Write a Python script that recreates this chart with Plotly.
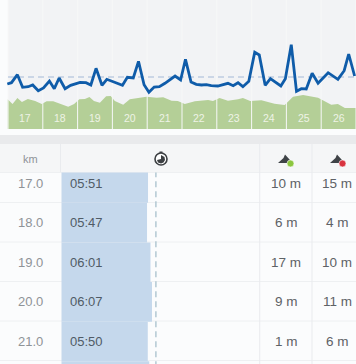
import plotly.graph_objects as go

W, H = 356, 364

# Top chart: distance (km), pace line and elevation profile (heights in chart units)
pace_km = [15.98,16.10,16.27,16.42,16.58,16.71,16.87,17.02,17.19,17.33,17.47,17.64,17.80,18.07,18.24,18.38,18.53,18.70,18.84,19.07,19.29,19.43,19.60,19.75,19.91,20.05,20.20,20.35,20.51,20.80,
           20.88,20.96,21.10,21.26,21.41,21.56,21.70,21.84,22.03,22.18,22.32,22.47,22.61,22.75,22.92,23.09,23.22,23.39,23.54,23.84,23.97,24.14,24.29,24.43,24.57,24.74,24.91,25.20,25.48,25.66,25.79,25.96]
pace_val = [45,46.3,54.3,41.7,42.3,44,38.3,41,48,40.3,51,40.3,43.7,46.7,46.3,44,60.7,43.7,49.7,47,43.7,51.7,51,67.7,44.3,36.7,42,42.3,45.7,53,
            50.7,49,69.7,47,44.7,44,44.3,43.3,43,44.7,45.7,43.3,46.3,42.3,47.7,76.7,74,43.7,50.3,43,50.3,84.3,37.7,40.3,40,55.7,45.7,56.3,49.7,58.3,75,53]
pace_avg = 52

elev_km = [15.99,16.13,16.27,16.40,16.57,16.78,16.97,17.11,17.30,17.54,17.73,17.90,18.05,18.21,18.34,18.47,18.64,18.82,18.95,19.07,19.31,19.50,19.70,19.98,20.27,20.46,20.70,20.88,
           21.08,21.37,21.75,21.89,22.08,22.32,22.61,22.75,22.96,23.28,23.66,23.95,24.19,24.48,24.91,25.03,25.29,25.48,25.68,26.0]
elev_val = [29.7,25,31,27,30,28,25,27.7,27.7,25,22.3,25,29.7,30,32,28,26.3,32.7,33,28,24.3,29.7,31,32.3,31.3,31.7,28.3,28,
            25,27.7,29,28,31,28.3,29.7,31,28,28.7,25.3,24,32.3,34,31.3,29,24.3,25,21,21]
km_grid = [16,17,18,19,20,21,22,23,24,25,26]
segment_labels = ["17","18","19","20","21","22","23","24","25","26"]

# Table
rows_km = [17,18,19,20,21,22]
km_text = ["17.0","18.0","19.0","20.0","21.0"]
pace_text = ["05:51","05:47","06:01","06:07","05:50"]
pace_sec = [351,347,361,367,350,356]
up_text = ["10 m","6 m","17 m","9 m","1 m"]
down_text = ["15 m","4 m","10 m","11 m","6 m"]
avg_sec = 383

def px(x): return x / W
def py(y): return 1 - y / H

gridx, gridy = [], []
for k in km_grid:
    gridx += [k, k, None]
    gridy += [0, 129, None]

fig = go.Figure()
fig.add_trace(go.Scatter(x=elev_km, y=elev_val, mode="lines", line=dict(width=0), fill="tozeroy",
                         fillcolor="#b4cf97", xaxis="x", yaxis="y"))
fig.add_trace(go.Scatter(x=gridx, y=gridy, mode="lines", line=dict(color="#f7f8f8", width=1), xaxis="x", yaxis="y"))
fig.add_trace(go.Scatter(x=[km_grid[0], km_grid[-1]], y=[pace_avg, pace_avg], mode="lines",
                         line=dict(color="#a3b9d8", width=1.2, dash="6px,4px"), xaxis="x", yaxis="y"))
fig.add_trace(go.Scatter(x=pace_km, y=pace_val, mode="lines", line=dict(color="#0f5ca9", width=2.8),
                         xaxis="x", yaxis="y"))
fig.add_trace(go.Bar(x=pace_sec, y=rows_km, orientation="h", width=1, marker=dict(color="#c5d8ec", line=dict(width=0)),
                     xaxis="x2", yaxis="y2"))
fig.add_trace(go.Scatter(x=[avg_sec, avg_sec], y=[16.7, 21.6], mode="lines",
                         line=dict(color="#a8c0cc", width=1.3, dash="6px,4px"), xaxis="x2", yaxis="y2"))

shapes = []
def rect(x0, y0, x1, y1, color, layer="below"):
    shapes.append(dict(type="rect", xref="paper", yref="paper", x0=px(x0), x1=px(x1), y0=py(y0), y1=py(y1),
                       fillcolor=color, line=dict(width=0), layer=layer))
def hline(y, color="#eef0f2", x0=0, x1=W):
    shapes.append(dict(type="line", xref="paper", yref="paper", x0=px(x0), x1=px(x1), y0=py(y), y1=py(y),
                       line=dict(color=color, width=1), layer="below"))
def vline(x, y0, y1, color="#e9ebee"):
    shapes.append(dict(type="line", xref="paper", yref="paper", x0=px(x), x1=px(x), y0=py(y0), y1=py(y1),
                       line=dict(color=color, width=1), layer="below"))

rect(8, 0, W, 129, "#f2f3f5")
rect(0, 135, W, 144, "#e9eaec")
rect(0, 144, W, 172, "#f5f6f7")
for y in [172.5, 202.5, 242, 281.5, 321, 360.5]:
    hline(y)
vline(60.5, 144, 172)
vline(259.7, 144, H)
vline(312, 144, H)

# stopwatch icon
shapes.append(dict(type="circle", xref="paper", yref="paper", x0=px(155), x1=px(167), y0=py(165), y1=py(153),
                   fillcolor="#ffffff", line=dict(color="#3c3f42", width=1.6), layer="above"))
shapes.append(dict(type="path", xref="paper", yref="paper",
                   path=f"M {px(161)} {py(159)} L {px(161)} {py(155)} L {px(164.5)} {py(157)} L {px(165)} {py(160)} "
                        f"L {px(163.5)} {py(162.5)} L {px(161)} {py(163.5)} L {px(158)} {py(162.5)} L {px(157)} {py(160)} Z",
                   fillcolor="#3c3f42", line=dict(width=0), layer="above"))
shapes.append(dict(type="rect", xref="paper", yref="paper", x0=px(159.5), x1=px(162.5), y0=py(153), y1=py(151.5),
                   fillcolor="#3c3f42", line=dict(width=0), layer="above"))

# mountain icons with badges
for cx, badge in [(285, "#8cc63f"), (337, "#d8333f")]:
    shapes.append(dict(type="path", xref="paper", yref="paper",
                      path=f"M {px(cx-7)} {py(163)} L {px(cx-1.5)} {py(158)} L {px(cx)} {py(154.5)} L {px(cx+5)} {py(160)} "
                           f"L {px(cx+5)} {py(163)} Z",
                      fillcolor="#3f4347", line=dict(width=0), layer="above"))
    shapes.append(dict(type="circle", xref="paper", yref="paper", x0=px(cx+2), x1=px(cx+9), y0=py(167), y1=py(160),
                       fillcolor=badge, line=dict(color="#ffffff", width=0.6), layer="above"))

ann = []
FONT = "Liberation Sans"
for k, t in zip(rows_km, km_text):
    ann.append(dict(text=t, x=px(30.5), y=k, xref="paper", yref="y2", showarrow=False, xanchor="center",
                    font=dict(family=FONT, size=13, color="#8f9397")))
for k, t in zip(rows_km, pace_text):
    ann.append(dict(text=t, x=px(68), y=k, xref="paper", yref="y2", showarrow=False, xanchor="left",
                    font=dict(family=FONT, size=13, color="#505b66")))
for k, t in zip(rows_km, up_text):
    ann.append(dict(text=t, x=px(286), y=k, xref="paper", yref="y2", showarrow=False, xanchor="center",
                    font=dict(family=FONT, size=13.5, color="#5e6266")))
for k, t in zip(rows_km, down_text):
    ann.append(dict(text=t, x=px(337), y=k, xref="paper", yref="y2", showarrow=False, xanchor="center",
                    font=dict(family=FONT, size=13.5, color="#5e6266")))
ann.append(dict(text="km", x=px(30.5), y=py(159), xref="paper", yref="paper", showarrow=False, xanchor="center",
                font=dict(family=FONT, size=11, color="#8f9397")))
for k, t in zip(km_grid[:-1], segment_labels):
    ann.append(dict(text=t, x=k + 0.5, y=11, xref="x", yref="y", showarrow=False, xanchor="center",
                    font=dict(family=FONT, size=10.5, color="#eef3e6")))

axis_off = dict(visible=False, fixedrange=True)
fig.update_layout(
    width=W, height=H, autosize=False, showlegend=False, hovermode=False,
    margin=dict(l=0, r=0, t=0, b=0), paper_bgcolor="#fbfcfd", plot_bgcolor="rgba(0,0,0,0)",
    barmode="overlay",
    xaxis=dict(domain=[0, 1], range=[15.77, 26], anchor="y", **axis_off),
    yaxis=dict(domain=[py(129), 1], range=[0, 129], anchor="x", **axis_off),
    xaxis2=dict(domain=[0, 1], range=[-249.5, 1194.7], anchor="y2", **axis_off),
    yaxis2=dict(domain=[0, py(172.5)], range=[21.57, 16.734], anchor="x2", **axis_off),
    shapes=shapes, annotations=ann,
)
fig.write_html("out.html", config=dict(displayModeBar=False),
               post_script="document.body.style.margin='0';document.body.style.overflow='hidden';")
